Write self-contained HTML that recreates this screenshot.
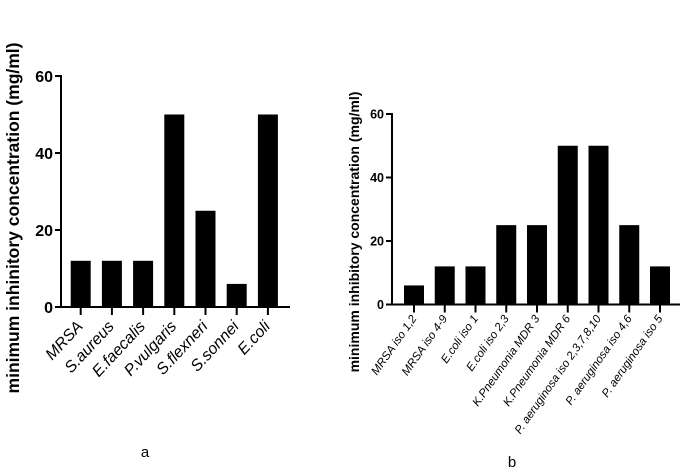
<!DOCTYPE html>
<html><head><meta charset="utf-8"><style>
body{margin:0;background:#fff}
svg{display:block;font-family:"Liberation Sans",sans-serif}
</style></head><body>
<svg id="s" width="685" height="473">
<text x="19" y="218" transform="rotate(-90 19 218)" text-anchor="middle" font-size="17.5" font-weight="bold">minimum inhinitory concentration (mg/ml)</text>
<text x="359" y="232" transform="rotate(-90 359 232)" text-anchor="middle" font-size="14" font-weight="bold">minimum inhibitory concentration (mg/ml)</text>
<text x="145" y="457" text-anchor="middle" font-size="15">a</text>
<text x="512" y="467" text-anchor="middle" font-size="15">b</text>
</svg>
<script>
const catsA=["MRSA","S.aureus","E.faecalis","P.vulgaris","S.flexneri","S.sonnei","E.coli"];
const valsA=[12,12,12,50,25,6,50];
const catsB=["MRSA iso 1,2","MRSA iso 4-9","E.coli iso 1","E.coli iso 2,3","K.Pneumonia MDR 3","K.Pneumonia MDR 6","P. aeruginosa iso 2,3,7,8,10","P. aeruginosa iso 4,6","P. aeruginosa iso 5"];
const valsB=[6,12,12,25,25,50,50,25,12];
const ticks=[0,20,40,60];
const svg=document.getElementById('s');
const NS="http://www.w3.org/2000/svg";
function mk(t,a){const e=document.createElementNS(NS,t);for(const k in a)e.setAttribute(k,a[k]);svg.appendChild(e);return e;}
function panel(p,cats,vals){
  const y=v=>p.y0-(p.y0-p.y60)*v/60;
  const x=i=>p.x1+i*p.step;
  let e=mk('line',{x1:p.ax,y1:p.y60-1,x2:p.ax,y2:p.y0,stroke:'#000','stroke-width':2});
  
  
  e=mk('line',{x1:p.ax-1,y1:p.y0,x2:p.xend,y2:p.y0,stroke:'#000','stroke-width':2});
  
  
  ticks.forEach(t=>{
    mk('line',{x1:p.ax-6,y1:y(t),x2:p.ax,y2:y(t),stroke:'#000','stroke-width':2});
    const tx=mk('text',{x:p.ax-8,y:y(t)+p.tf*0.36,'text-anchor':'end','font-size':p.tf,'font-weight':'bold'});
    tx.textContent=t;
    
    
  });
  cats.forEach((c,i)=>{
    const r=mk('rect',{x:x(i)-p.bw/2,y:y(vals[i]),width:p.bw,height:y(0)-y(vals[i]),fill:'#000'});
    
    
    mk('line',{x1:x(i),y1:p.y0,x2:x(i),y2:p.y0+8,stroke:'#000','stroke-width':2});
    const lx=x(i)+3,ly=p.y0+p.ld;
    const t=mk('text',{x:lx,y:ly,'text-anchor':'end','font-size':p.lf,'font-style':'italic',transform:`rotate(${p.ang} ${lx} ${ly})`});
    t.textContent=c;
    
    
  });
}
panel({id:'a',ax:61,y0:307,y60:76,x1:80.7,step:31.2,bw:20,xend:290,tf:16,lf:16,ld:20,ang:-47},catsA,valsA);
panel({id:'b',ax:392,y0:304.5,y60:114,x1:414,step:30.75,bw:20,xend:680,tf:12.5,lf:11.5,ld:14,ang:-55},catsB,valsB);
</script>
</body></html>
